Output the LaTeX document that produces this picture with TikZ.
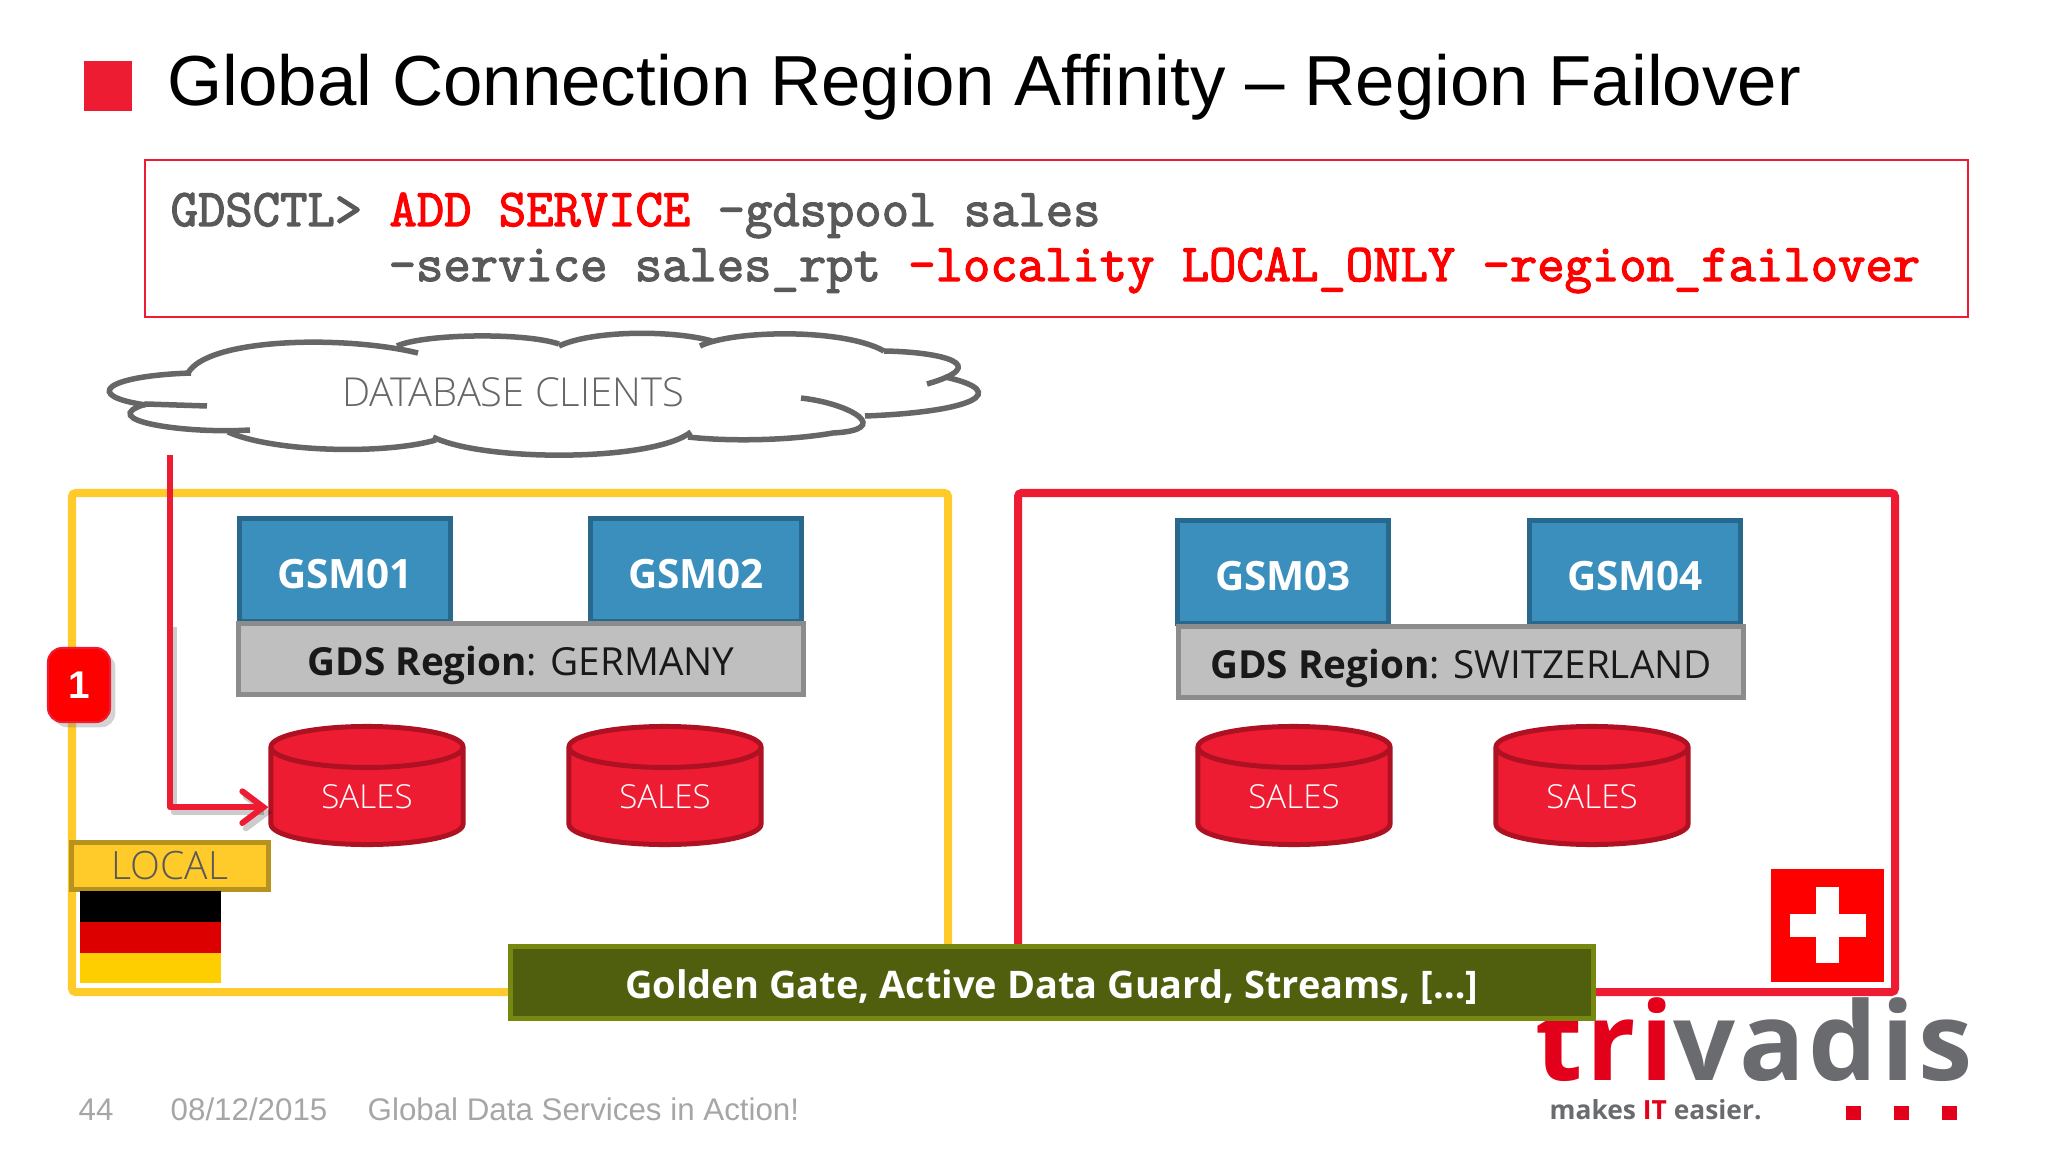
\documentclass[tikz,border=0pt]{standalone}
\usepackage{fontspec}
\usepackage{xcolor}
\usetikzlibrary{shapes.geometric, arrows.meta, shadows}
\newfontfamily\arialfont{Liberation Sans}
\newfontfamily\segoefont{Open Sans}
\newfontfamily\segoelight{Open Sans Light}
\newfontfamily\logofont[LetterSpace=3.5]{Open Sans}
\newfontfamily\codefont[FakeBold=2.4]{Latin Modern Mono}
\definecolor{slidered}{HTML}{EE1C33}
\definecolor{darkred}{HTML}{AE1222}
\definecolor{logored}{HTML}{E2001A}
\definecolor{logogray}{HTML}{6A6B6E}
\definecolor{framegold}{HTML}{FFCB2B}
\definecolor{darkgold}{HTML}{B8921E}
\definecolor{gsmblue}{HTML}{3A8FBC}
\definecolor{darkblue}{HTML}{27688C}
\definecolor{barolive}{HTML}{4F5F0E}
\definecolor{darkolive}{HTML}{76880F}
\definecolor{flagred}{HTML}{DD0000}
\definecolor{flaggold}{HTML}{FFCE00}
\colorlet{codegray}{black!65}
\colorlet{footgray}{black!35}
\tikzset{
    footer/.style = {anchor=base west, inner sep=0pt, text=footgray, font=\arialfont\fontsize{8.9}{11}\selectfont},
    code line/.style = {anchor=base west, inner sep=0pt, text=codegray, font=\codefont\fontsize{15.1}{18}\selectfont},
    cloud line/.style = {line width=5.5*0.2845pt, color=black!60},
    region frame/.style = {line width=8*0.2845pt, rounded corners=1pt},
    gsm box/.style = {rectangle, draw=darkblue, fill=gsmblue, line width=5*0.2845pt, minimum width=2.1cm, minimum height=1.03cm,
        text height=10.4pt, text depth=0pt, text=white, font=\segoefont\bfseries\fontsize{11.5}{14}\selectfont},
    gds box/.style = {rectangle, draw=black!45, fill=black!25, line width=5*0.2845pt, minimum width=5.65cm, minimum height=0.7cm,
        text height=9.3pt, text depth=0pt, text=black!90, font=\segoefont\fontsize{11}{13}\selectfont},
    sales db/.style = {cylinder, shape border rotate=90, shape aspect=0.45, draw=darkred, fill=slidered, line width=5*0.2845pt,
        minimum width=1.92cm, minimum height=1.18cm, inner sep=0pt, text=white, font=\segoelight\fontsize{9.4}{11}\selectfont},
    important arrow/.style = {slidered, line width=6*0.2845pt, line join=round, -{Straight Barb[length=6pt, width=9pt, line cap=round]}}
}

\begin{document}
\begin{tikzpicture}[x=0.01cm, y=-0.01cm]
        \useasboundingbox (0, 0) rectangle (2048, 1152);
        % draw title
        \fill[slidered] (84, 61) rectangle (132, 111);
        \node[anchor=base west, inner sep=0pt, font=\arialfont\fontsize{20.15}{24}\selectfont] (title) at (167, 106) {Global Connection Region Affinity – Region Failover};
        % draw code block
        \draw[slidered, line width=2*0.2845pt] (145, 160) rectangle (1968, 317);
        \node[code line] (code one) at (170, 226) {GDSCTL> \textcolor{red}{ADD SERVICE} -gdspool sales};
        \node[code line] (code two) at (388, 281) {-service sales\_rpt \textcolor{red}{-locality LOCAL\_ONLY -region\_failover}};
        % draw cloud
        \begin{scope}[cloud line, xshift=0.03cm]
            \draw (185, 373) .. controls (205, 338) and (340, 335) .. (415, 353);
            \draw (394, 346) .. controls (420, 334) and (520, 332) .. (556, 344);
            \draw (556, 346) .. controls (590, 330) and (670, 330) .. (709, 341);
            \draw (697, 346) .. controls (730, 330) and (840, 328) .. (881, 351);
            \draw (881, 351) .. controls (940, 352) and (990, 365) .. (924, 384);
            \draw (942, 377) .. controls (1010, 392) and (970, 412) .. (862, 416);
            \draw (798, 398) .. controls (850, 404) and (890, 430) .. (830, 433) .. controls (790, 440) and (730, 442) .. (685, 437);
            \draw (688, 432) .. controls (650, 462) and (480, 462) .. (430, 437);
            \draw (433, 440) .. controls (380, 455) and (270, 452) .. (225, 432);
            \draw (247, 430) .. controls (180, 434) and (90, 420) .. (143, 404) -- (204, 406);
            \draw (143, 405) .. controls (80, 396) and (100, 376) .. (188, 373);
        \end{scope}
        \node[inner sep=0pt, text=black!60, font=\segoelight\fontsize{11.35}{13}\selectfont] (clients) at (513, 392) {DATABASE CLIENTS};
        \coordinate (clients out) at (170, 455);
        % draw region frames
        \draw[region frame, framegold] (72, 493) rectangle (948, 992);
        \draw[region frame, slidered] (1018, 493) rectangle (1895, 992);
        % draw logo
        \node[anchor=base west, inner sep=0pt, font=\logofont\bfseries\fontsize{31}{34}\selectfont] (logo) at (1535, 1080) {\textcolor{logored}{tri}\textcolor{logogray}{vadis}};
        \node[anchor=base west, inner sep=0pt, text=logogray, font=\segoefont\bfseries\fontsize{7.5}{10}\selectfont] (slogan) at (1549, 1119) {makes \textcolor{logored}{IT} easier.};
        \foreach \x in {1846, 1894, 1942}
            \fill[logored] (\x, 1106) rectangle ++(15, 14);
        % draw replication bar
        \node[anchor=north west, rectangle, draw=darkolive, fill=barolive, line width=5*0.2845pt, minimum width=10.82cm, minimum height=0.72cm,
            text height=9pt, text depth=0pt, text=white, font=\segoefont\bfseries\fontsize{10.8}{14}\selectfont] (replication) at (508, 944) {Golden Gate, Active Data Guard, Streams, […]};
        % draw gsm boxes
        \foreach \name/\x/\y/\gsmtext in {gsm1/345/570/GSM01, gsm2/696/570/GSM02, gsm3/1283/572/GSM03, gsm4/1635/572/GSM04}
            \node[gsm box] (\name) at (\x, \y) {\gsmtext};
        % draw gds regions
        \node[gds box] (germany) at (521, 659) {\textbf{GDS Region}: GERMANY};
        \node[gds box] (switzerland) at (1461, 662) {\textbf{GDS Region}: SWITZERLAND};
        % draw databases
        \foreach \name/\x in {db1/367, db2/665, db3/1294, db4/1592}
            \node[sales db] (\name) at (\x, 797) {SALES};
        % draw germany tag
        \node[rectangle, draw=darkgold, fill=framegold, line width=5*0.2845pt, minimum width=1.96cm, minimum height=0.46cm, inner sep=0pt,
            text=black!65, font=\segoelight\fontsize{11.1}{13}\selectfont] (local) at (170, 866) {LOCAL};
        \fill[black] (80, 891) rectangle (221, 922);
        \fill[flagred] (80, 922) rectangle (221, 953);
        \fill[flaggold] (80, 953) rectangle (221, 983);
        % draw swiss flag
        \fill[red] (1771, 869) rectangle (1884, 982);
        \fill[white] (1790, 914) rectangle (1866, 937);
        \fill[white] (1816, 887) rectangle (1839, 963);
        % draw badge
        \node[rectangle, rounded corners=4pt, draw=slidered, fill=red, line width=2*0.2845pt, drop shadow={shadow xshift=1.5pt, shadow yshift=-1.5pt, opacity=0.35},
            minimum width=0.62cm, minimum height=0.74cm, inner sep=0pt, text=white, font=\arialfont\bfseries\fontsize{11}{13}\selectfont] (badge) at (79, 685) {1};
        % draw connection
        \draw[important arrow, black, opacity=0.2, transform canvas={xshift=1pt, yshift=-1.5pt}] (clients out |- germany.north) |- ([yshift=-2.9pt]db1.west);
        \draw[important arrow] (clients out) |- ([yshift=-2.9pt]db1.west);
        % draw footer
        \node[footer] (page) at (78, 1120) {44};
        \node[footer] (date) at (170, 1120) {08/12/2015};
        \node[footer] (talk) at (367, 1120) {Global Data Services in Action!};
    \end{tikzpicture}
\end{document}
